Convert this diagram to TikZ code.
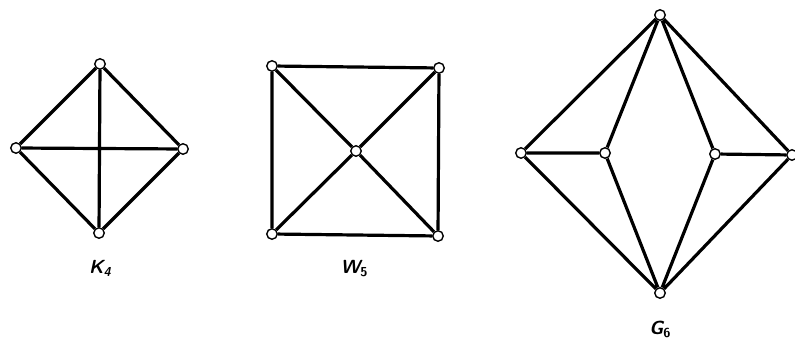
\documentclass[tikz,border=0pt]{standalone}
\begin{document}
\begin{tikzpicture}[x=1pt,y=-1pt,
  vtx/.style={circle,draw,fill=white,line width=1.4pt,inner sep=0pt,minimum size=10.5pt},
  edge/.style={line width=3.2pt},
  lbl/.style={font=\fontsize{19}{22}\selectfont\sffamily\bfseries\slshape}]
\useasboundingbox (0,0) rectangle (795,342);
% K4
\node[vtx] (ka) at (100,64) {};
\node[vtx] (kb) at (16,148) {};
\node[vtx] (kc) at (183,149) {};
\node[vtx] (kd) at (99,233) {};
\draw[edge] (ka)--(kb) (ka)--(kc) (kb)--(kd) (kc)--(kd) (ka)--(kd) (kb)--(kc);
\node[lbl] (kl) at (100,268) {K\raisebox{-0.35ex}{\fontsize{13}{14}\selectfont 4}};
% W5
\node[vtx] (wa) at (272,66) {};
\node[vtx] (wb) at (439,68) {};
\node[vtx] (wc) at (272,234) {};
\node[vtx] (wd) at (438,236) {};
\node[vtx] (wo) at (356,151) {};
\draw[edge] (wa)--(wb) (wb)--(wd) (wd)--(wc) (wc)--(wa) (wa)--(wo) (wb)--(wo) (wc)--(wo) (wd)--(wo);
\node[lbl] (wl) at (354,269) {W\raisebox{-0.35ex}{\fontsize{13}{14}\selectfont\upshape 5}};
% G6
\node[vtx] (gt) at (660,15) {};
\node[vtx] (gl) at (521,153) {};
\node[vtx] (gil) at (605,153) {};
\node[vtx] (gir) at (715,154) {};
\node[vtx] (gr) at (792,155) {};
\node[vtx] (gb) at (660,293) {};
\draw[edge] (gt)--(gl) (gt)--(gil) (gt)--(gir) (gt)--(gr)
  (gl)--(gil) (gir)--(gr)
  (gb)--(gl) (gb)--(gil) (gb)--(gir) (gb)--(gr);
\node[lbl] (gla) at (660,329) {G\raisebox{-0.35ex}{\fontsize{13}{14}\selectfont\upshape 6}};
\end{tikzpicture}
\end{document}
